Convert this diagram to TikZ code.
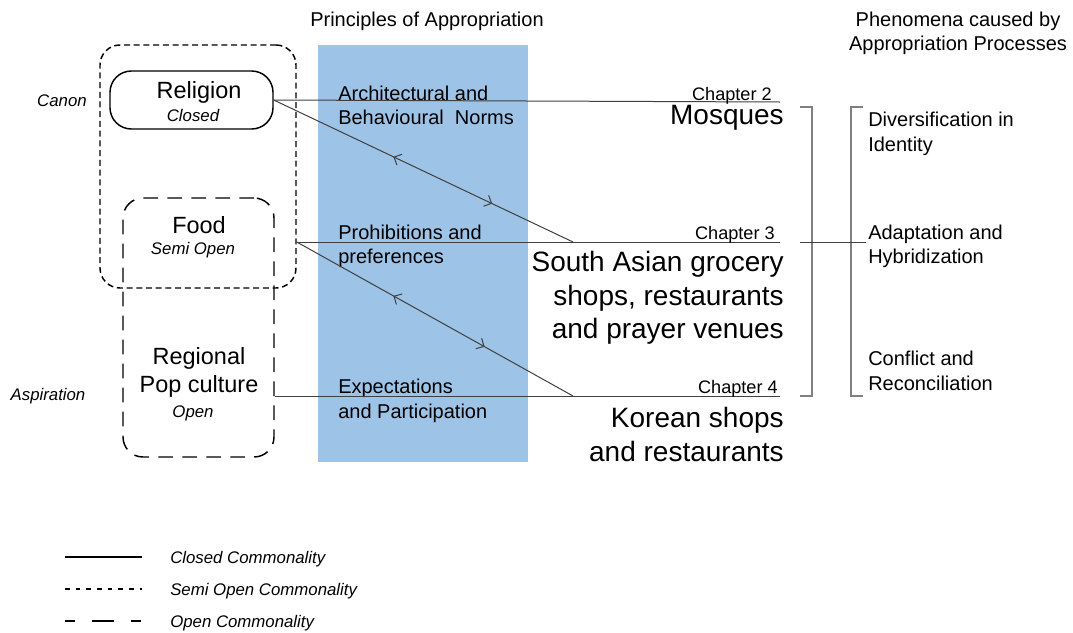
\documentclass[tikz,border=0pt]{standalone}
\usepackage{fontspec}
\setmainfont{Liberation Sans}
\usetikzlibrary{fit,arrows.meta,decorations.markings}

\newcommand\szNorm{\fontsize{15}{18}\selectfont}
\newcommand\szBig{\fontsize{21}{25}\selectfont}
\newcommand\szMid{\fontsize{17.6}{21}\selectfont}
\newcommand\szIt{\fontsize{12.6}{15}\selectfont\itshape}
\newcommand\szChap{\fontsize{13.6}{16}\selectfont}
\definecolor{bandblue}{RGB}{157,195,230}

\begin{document}
\begin{tikzpicture}[x=0.75pt, y=-0.75pt, font=\szNorm,
  txt/.style={inner sep=0, anchor=base west},
  closedbox/.style={draw, line width=1.1pt, rounded corners=16pt, inner sep=0},
  semibox/.style={draw, line width=1.1pt, rounded corners=15pt, inner sep=0, semidash},
  openbox/.style={draw, line width=1.1pt, rounded corners=15pt, inner sep=0, opendash},
  semidash/.style={dash pattern=on 4.5pt off 2.8pt},
  opendash/.style={dash pattern=on 11pt off 7pt},
  legsemi/.style={dash pattern=on 3.5pt off 4.5pt},
  legopen/.style={dash pattern=on 7.5pt off 13pt on 16pt off 13pt},
  link/.style={black!75, line width=0.75pt},
  brack/.style={gray, line width=0.9pt},
  twoway/.style 2 args={postaction={decorate}, decoration={markings,
    mark=at position #1 with {\arrowreversed{Straight Barb[length=4.5pt, width=9pt]}},
    mark=at position #2 with {\arrow{Straight Barb[length=4.5pt, width=9pt]}}}}]

\useasboundingbox (0,0) rectangle (1073,632);

% column titles
\node[txt, anchor=base] (ptitle) at (427,26) {Principles of Appropriation};
\node[txt, anchor=base] (ftitle1) at (958,26) {Phenomena caused by};
\node[txt, anchor=base] (ftitle2) at (958,50) {Appropriation Processes};

% principles column
\fill[bandblue] (318,45) rectangle (528,462);

% commonality boxes
\node[semibox, fit={(100,45) (296,288)}] (canon) {};
\node[closedbox, fit={(110,71) (273,129)}] (religion) {};
\node[openbox, fit={(123,198) (274,457)}] (aspir) {};

\node[txt, anchor=base, font=\szMid] (reltxt) at (199,98) {Religion};
\node[txt, anchor=base, font=\szIt] (relsub) at (193,121) {Closed};
\node[txt, anchor=base, font=\szMid] (foodtxt) at (199,233) {Food};
\node[txt, anchor=base, font=\szIt] (foodsub) at (193,254) {Semi Open};
\node[txt, anchor=base, font=\szMid] (poptxt1) at (199,364) {Regional};
\node[txt, anchor=base, font=\szMid] (poptxt2) at (199,392) {Pop culture};
\node[txt, anchor=base, font=\szIt] (popsub) at (193,417) {Open};

\node[txt, anchor=base, font=\szIt] (canonlbl) at (62,106) {Canon};
\node[txt, anchor=base, font=\szIt] (asplbl) at (48,400) {Aspiration};

% principles
\foreach \i/\yy/\t in {1/100/{Architectural and}, 2/124/{Behavioural\ \ Norms},
  3/239/{Prohibitions and}, 4/263/{preferences},
  5/393/{Expectations}, 6/418/{and Participation}}
  \node[txt] (pr\i) at (338,\yy) {\t};

% connectors
\coordinate (c2) at (780,102);
\coordinate (c3) at (780,242);
\coordinate (c4) at (780,396);
\coordinate (d3) at (573,242);
\coordinate (d4) at (573,396);
\draw[link] (religion.east) -- (c2);
\draw[link, twoway={0.4}{0.73}] (religion.east) -- (d3);
\draw[link] (canon.east |- c3) -- (c3);
\draw[link, twoway={0.35}{0.68}] (canon.east |- c3) -- (d4);
\draw[link] (aspir.east |- c4) -- (c4);

% chapters
\node[txt, anchor=base east, font=\szChap] (ch2) at (772,100) {Chapter 2};
\node[txt, anchor=base east, font=\szBig] (mosq) at (784,124) {Mosques};
\node[txt, anchor=base east, font=\szChap] (ch3) at (775,239) {Chapter 3};
\foreach \i/\yy/\t in {1/271/{South Asian grocery}, 2/305/{shops, restaurants},
  3/338/{and prayer venues}}
  \node[txt, anchor=base east, font=\szBig] (sa\i) at (784,\yy) {\t};
\node[txt, anchor=base east, font=\szChap] (ch4) at (778,393) {Chapter 4};
\foreach \i/\yy/\t in {1/427/{Korean shops}, 2/461/{and restaurants}}
  \node[txt, anchor=base east, font=\szBig] (ko\i) at (784,\yy) {\t};

% brackets
\draw[brack] (800,107) -- (812,107) -- (812,396) -- (800,396);
\draw[brack] (863,107) -- (851,107) -- (851,396) -- (863,396);
\draw[link] (800,242) -- (866,242);

% phenomena
\foreach \i/\yy/\t in {1/126/{Diversification in}, 2/151/{Identity},
  3/239/{Adaptation and}, 4/263/{Hybridization},
  5/365/{Conflict and}, 6/390/{Reconciliation}}
  \node[txt] (ph\i) at (868,\yy) {\t};

% legend
\foreach \i/\pat/\t in {0/solid/Closed, 1/legsemi/Semi Open, 2/legopen/Open} {
  \draw[\pat, line width=1.1pt] (65,557+32*\i) -- (142,557+32*\i);
  \node[txt, font=\szIt] (leg\i) at (170,563+32*\i) {\t{} Commonality};
}

\end{tikzpicture}
\end{document}
